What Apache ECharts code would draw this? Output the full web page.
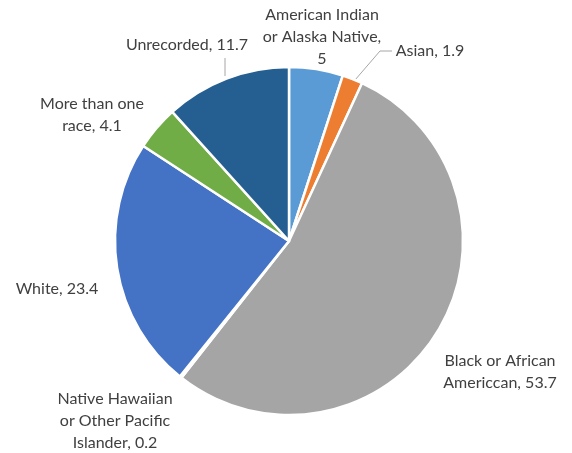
<!DOCTYPE html>
<html>
<head>
<meta charset="utf-8">
<script src="https://cdn.jsdelivr.net/npm/echarts@6/dist/echarts.min.js"></script>
<style>
  html, body { margin: 0; padding: 0; background: #fff; }
  #chart1 { width: 572px; height: 453px; }
</style>
</head>
<body>
<div id="chart1"></div>
<script>
var categories = ['American Indian\nor Alaska Native,\n5', 'Asian, 1.9', 'Black or African\nAmericcan, 53.7',
    'Native Hawaiian\nor Other Pacific\nIslander, 0.2', 'White, 23.4', 'More than one\nrace, 4.1', 'Unrecorded, 11.7'];
var values = [5, 1.9, 53.7, 0.2, 23.4, 4.1, 11.7];
var colors = ['#5B9BD5', '#ED7D31', '#A5A5A5', '#FFC000', '#4472C4', '#70AD47', '#255E91'];

// where each label sits (Excel style placement)
var labelPos = [
    {x: 322, y: 37},
    {x: 430, y: 51},
    {x: 500, y: 372},
    {x: 115, y: 421},
    {x: 57, y: 289},
    {x: 92, y: 115},
    {x: 187, y: 45}
];
var leaderLines = {
    1: [[355, 80], [380, 51], [392, 51]],
    6: [[225, 76], [225, 58]]
};

var myChart = echarts.init(document.getElementById('chart1'));

var data = values.map(function (v, i) {
    return {
        value: v,
        name: categories[i],
        itemStyle: {color: colors[i]},
        labelLine: {show: !!leaderLines[i]}
    };
});

myChart.setOption({
    animation: false,
    series: [
        {
            type: 'pie',
            center: [289, 241],
            radius: 174,
            startAngle: 90,
            clockwise: true,
            minAngle: 0,
            avoidLabelOverlap: false,
            itemStyle: {
                borderColor: '#fff',
                borderWidth: 2.5
            },
            label: {
                show: true,
                formatter: '{b}',
                fontFamily: 'Lato',
                fontSize: 16,
                lineHeight: 22,
                color: '#404040',
                align: 'center'
            },
            labelLine: {
                lineStyle: {color: '#a6a6a6', width: 1}
            },
            labelLayout: function (params) {
                var p = labelPos[params.dataIndex];
                var out = {x: p.x, y: p.y, align: 'center', verticalAlign: 'middle'};
                if (leaderLines[params.dataIndex]) {
                    out.labelLinePoints = leaderLines[params.dataIndex];
                }
                return out;
            },
            data: data
        }
    ]
});
</script>
</body>
</html>
